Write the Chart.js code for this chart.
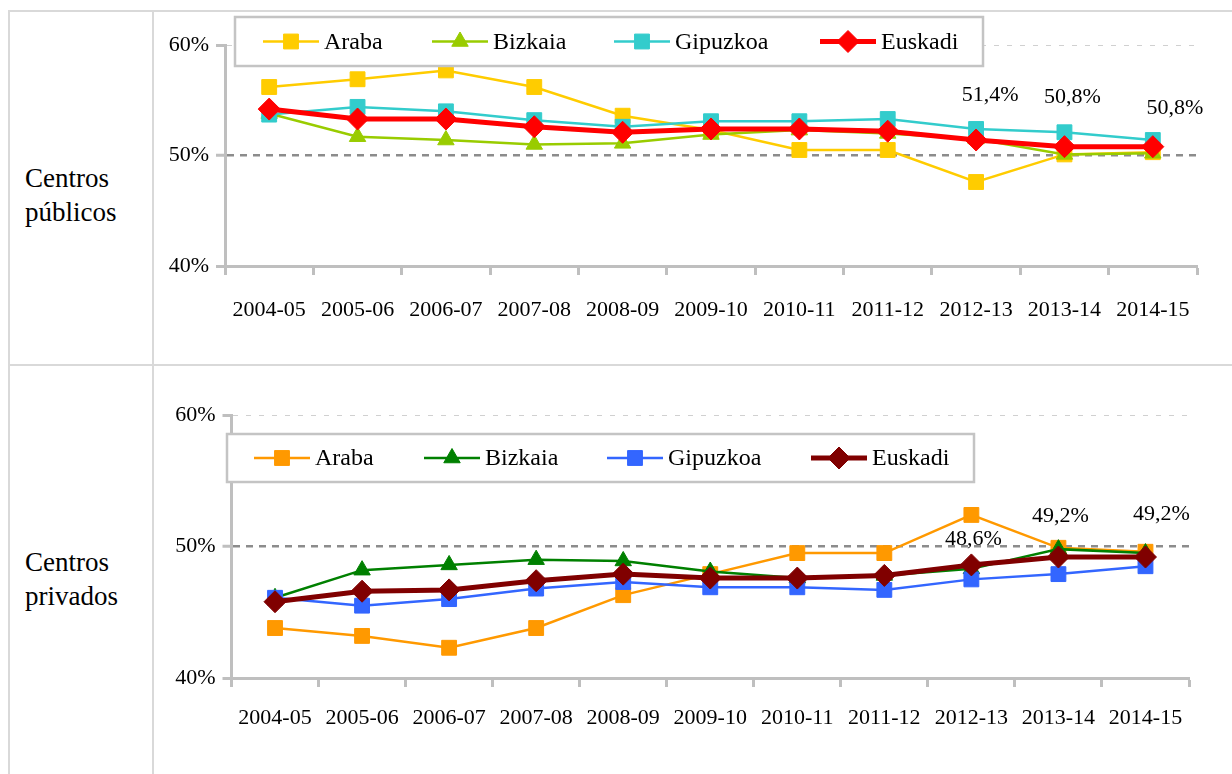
<!DOCTYPE html>
<html><head><meta charset="utf-8">
<script src="https://cdn.jsdelivr.net/npm/chart.js@4.4.0/dist/chart.umd.min.js"></script>
<style>
html,body{margin:0;padding:0;background:#fff;}
body{width:1232px;height:774px;overflow:hidden;position:relative;font-family:"Liberation Serif",serif;}
.ln{position:absolute;background:#D9D9D9;}
.lbl{position:absolute;left:25px;font-size:27px;line-height:34px;color:#000;}
.cv{position:absolute;}
</style></head><body>
<div class="ln" style="left:8px;top:10px;width:2px;height:764px"></div>
<div class="ln" style="left:152px;top:10px;width:2px;height:764px"></div>
<div class="ln" style="left:8px;top:10px;width:1224px;height:2px"></div>
<div class="ln" style="left:8px;top:364px;width:1224px;height:2px"></div>
<div class="lbl" style="top:161px">Centros<br>públicos</div>
<div class="lbl" style="top:545px">Centros<br>privados</div>
<div class="cv" style="left:160px;top:13px;width:1072px;height:350px"><canvas id="c1"></canvas></div>
<div class="cv" style="left:160px;top:367px;width:1072px;height:407px"><canvas id="c2"></canvas></div>
<script>
const categories = ['2004-05','2005-06','2006-07','2007-08','2008-09','2009-10','2010-11','2011-12','2012-13','2013-14','2014-15'];
const seriesNames = ['Araba','Bizkaia','Gipuzkoa','Euskadi'];
const yTicks = [40, 50, 60];

const pubAraba    = [56.2,56.9,57.7,56.2,53.6,52.3,50.5,50.5,47.6,50.1,50.3];
const pubBizkaia  = [53.8,51.7,51.4,51.0,51.1,51.9,52.3,52.0,51.5,50.1,50.2];
const pubGipuzkoa = [53.7,54.4,54.0,53.2,52.6,53.1,53.1,53.3,52.4,52.1,51.4];
const pubEuskadi  = [54.2,53.3,53.3,52.6,52.1,52.4,52.4,52.2,51.4,50.8,50.8];

const privAraba    = [43.8,43.2,42.3,43.8,46.3,47.9,49.5,49.5,52.4,49.9,49.6];
const privBizkaia  = [46.1,48.2,48.6,49.0,48.9,48.1,47.6,47.8,48.3,49.8,49.5];
const privGipuzkoa = [46.1,45.5,46.0,46.8,47.3,46.9,46.9,46.7,47.5,47.9,48.5];
const privEuskadi  = [45.8,46.6,46.7,47.4,47.9,47.6,47.6,47.8,48.6,49.2,49.2];

const labelIdx = [8, 9, 10];

const FONT = 'Liberation Serif';
const fmt = v => v.toFixed(1).replace('.', ',') + '%';

function makeDatasets(vals, colors) {
  const styles = [
    {pointStyle:'rect', pointRadius:10.5, borderWidth:2.5, order:4},
    {pointStyle:'triangle', pointRadius:9.5, borderWidth:2.5, order:3},
    {pointStyle:'rect', pointRadius:10.5, borderWidth:2.5, order:2},
    {pointStyle:'rectRot', pointRadius:11, borderWidth:5, order:1}
  ];
  return vals.map((d, i) => Object.assign({
    label: seriesNames[i], data: d,
    borderColor: colors[i], backgroundColor: colors[i],
    pointBackgroundColor: colors[i], pointBorderColor: colors[i],
    pointBorderWidth: 1, tension: 0, fill: false
  }, styles[i]));
}

function legendPlugin(box) {
  return {
    id: 'boxLegend',
    afterDatasetsDraw(chart) {
      const ctx = chart.ctx;
      const ca = chart.chartArea;
      const x = ca.left + box.dx, y = ca.top + box.dy;
      ctx.save();
      ctx.fillStyle = '#fff';
      ctx.fillRect(x, y, box.w, box.h);
      ctx.strokeStyle = '#C4C4C4';
      ctx.lineWidth = 2.5;
      ctx.strokeRect(x, y, box.w, box.h);
      const cy = y + box.h / 2;
      chart.data.datasets.forEach((ds, i) => {
        const x0 = x + box.items[i];
        ctx.strokeStyle = ds.borderColor;
        ctx.lineWidth = ds.borderWidth;
        ctx.beginPath(); ctx.moveTo(x0, cy); ctx.lineTo(x0 + 56, cy); ctx.stroke();
        ctx.fillStyle = ds.pointBackgroundColor;
        ctx.strokeStyle = ds.pointBorderColor;
        ctx.lineWidth = 1;
        Chart.helpers.drawPoint(ctx, {pointStyle: ds.pointStyle, radius: ds.pointRadius, rotation: 0, borderWidth: 1}, x0 + 28, cy);
        ctx.fillStyle = '#000';
        ctx.font = '24px "' + FONT + '"';
        ctx.textAlign = 'left'; ctx.textBaseline = 'middle';
        ctx.fillText(ds.label, x0 + 61, cy + 1);
      });
      ctx.restore();
    }
  };
}

function valueLabelPlugin(offsets) {
  return {
    id: 'valLabels',
    afterDatasetsDraw(chart) {
      const ctx = chart.ctx;
      const dsIndex = 3;
      const meta = chart.getDatasetMeta(dsIndex);
      const data = chart.data.datasets[dsIndex].data;
      ctx.save();
      ctx.fillStyle = '#000';
      ctx.font = '22px "' + FONT + '"';
      ctx.textAlign = 'center'; ctx.textBaseline = 'middle';
      labelIdx.forEach((idx, k) => {
        const p = meta.data[idx];
        ctx.fillText(fmt(data[idx]), p.x + offsets[k][0], p.y + offsets[k][1]);
      });
      ctx.restore();
    }
  };
}

function makeChart(id, vals, colors, geo) {
  const gridColor = c => {
    if (!c.tick) return 'rgba(0,0,0,0)';
    if (c.tick.value === 50) return '#8C8C8C';
    if (c.tick.value === 60) return '#D0D0D0';
    return 'rgba(0,0,0,0)';
  };
  return new Chart(document.getElementById(id), {
    type: 'line',
    data: { labels: categories, datasets: makeDatasets(vals, colors) },
    options: {
      responsive: true, maintainAspectRatio: false, animation: false, events: [],
      layout: { padding: { top: geo.top, right: geo.right, left: 0, bottom: 0 } },
      plugins: { legend: { display: false }, tooltip: { enabled: false } },
      scales: {
        x: {
          offset: true,
          grid: { offset: true, drawOnChartArea: false, drawTicks: true, tickLength: 9, tickColor: '#BFBFBF', tickWidth: 3, color: '#BFBFBF' },
          border: { color: '#BFBFBF', width: 3 },
          ticks: { color: '#000', font: { family: FONT, size: 22 }, padding: geo.xPad, maxRotation: 0, autoSkip: false },
          afterFit: s => { s.height = geo.xH; }
        },
        y: {
          min: yTicks[0], max: yTicks[yTicks.length - 1],
          afterBuildTicks: s => { s.ticks = yTicks.map(v => ({ value: v })); },
          ticks: { callback: v => v + '%', color: '#000', font: { family: FONT, size: 22 }, padding: 7 },
          grid: {
            color: gridColor,
            lineWidth: c => (c.tick && c.tick.value === 50) ? 2.5 : 1,
            tickColor: '#BFBFBF', tickWidth: 3, tickLength: 9, drawTicks: true
          },
          border: {
            color: '#BFBFBF', width: 3,
            dash: c => (c.tick && c.tick.value === 50) ? [7, 6] : ((c.tick && c.tick.value === 60) ? [5, 8] : [])
          },
          afterFit: s => { s.width = geo.yW; }
        }
      }
    },
    plugins: [legendPlugin(geo.legend), valueLabelPlugin(geo.labels)]
  });
}

makeChart('c1', [pubAraba, pubBizkaia, pubGipuzkoa, pubEuskadi],
  ['#FFCC00', '#99CC00', '#33CCCC', '#FF0000'],
  { top: 32, right: 35, xH: 97, yW: 65, xPad: 22,
    legend: { dx: 10, dy: -28, w: 748, h: 49, items: [28, 197, 379, 585] },
    labels: [[14, -45], [8, -49], [22, -38]] });

makeChart('c2', [privAraba, privBizkaia, privGipuzkoa, privEuskadi],
  ['#FF9900', '#008000', '#3366FF', '#800000'],
  { top: 48, right: 43, xH: 96, yW: 71.5, xPad: 18,
    legend: { dx: -4.5, dy: 19, w: 747, h: 48, items: [27, 197, 380, 584] },
    labels: [[2, -26], [2, -41], [16, -43]] });
</script>
</body></html>
